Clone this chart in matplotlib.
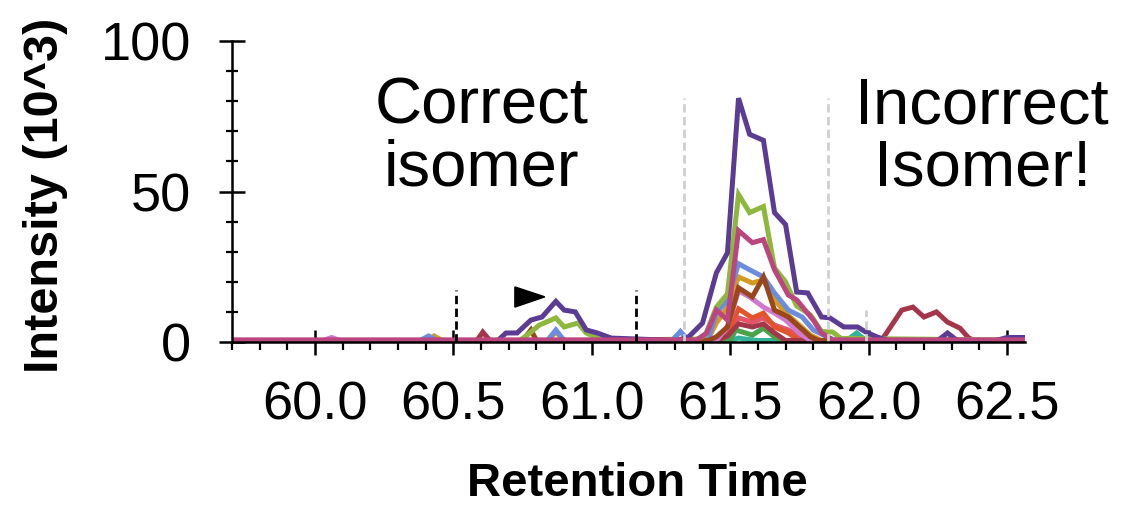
import numpy as np
import matplotlib.pyplot as plt
from matplotlib.ticker import MultipleLocator, FormatStrFormatter

# retention time (min) / intensity (10^3) vertices
t_purple = [59.6, 60.66, 60.69, 60.73, 60.78, 60.82, 60.87, 60.90, 60.94, 60.98, 61.02, 61.07,
            61.31, 61.35, 61.40, 61.45, 61.49, 61.53, 61.57, 61.62, 61.66, 61.70, 61.74, 61.78,
            61.83, 61.86, 61.91, 61.96, 61.99, 62.03, 62.07, 62.25, 62.285, 62.32, 62.46, 62.50, 62.7]
y_purple = [0.5, 0.5, 3, 3, 7.3, 8.3, 13.5, 10.6, 10, 4, 3, 1.3,
            0.5, 1.7, 6.3, 23, 29.6, 81, 69, 67, 43, 39, 16.6, 16.3,
            8.3, 8, 5, 5, 3.3, 1.7, 0.5, 0.5, 3, 0.5, 0.5, 1.5, 1.5]

t_green = [59.6, 60.74, 60.78, 60.81, 60.87, 60.90, 60.95, 60.98, 61.02, 61.05,
           61.37, 61.41, 61.45, 61.49, 61.53, 61.57, 61.62, 61.66, 61.70, 61.74, 61.79,
           61.83, 61.87, 61.90, 62.7]
y_green = [0.5, 0.5, 3.3, 5.6, 8, 5, 6.3, 3, 1.3, 0.5,
           0.5, 2.3, 11.6, 16, 49, 43, 45, 24.6, 20, 12, 9,
           3.5, 3.3, 1.2, 0.5]

t_pink = [59.6, 61.38, 61.415, 61.45, 61.49, 61.53, 61.58, 61.62, 61.66, 61.71, 61.74,
          61.80, 61.83, 61.87, 62.7]
y_pink = [0.7, 0.7, 3, 10.6, 7.3, 37, 33, 34, 24, 15.6, 14,
          7.3, 3, 0.7, 0.7]

t_blue = [59.6, 60.38, 60.41, 60.44, 60.84, 60.87, 60.90, 61.29, 61.32, 61.35,
          61.42, 61.45, 61.49, 61.53, 61.57, 61.62, 61.66, 61.71, 61.76, 61.80, 61.85, 61.88, 62.7]
y_blue = [0.5, 0.5, 2, 0.5, 0.5, 4, 0.5, 0.5, 3.5, 0.5,
          1, 9.6, 14, 26, 24, 21.6, 16.3, 10.6, 8.3, 4, 1.7, 0.5, 0.5]

t_gold = [59.6, 60.41, 60.43, 60.46, 60.84, 60.87, 60.90,
          61.42, 61.45, 61.49, 61.53, 61.58, 61.62, 61.66, 61.70, 61.75, 61.79, 61.83, 62.7]
y_gold = [0.5, 0.5, 2, 0.5, 0.5, 3.3, 0.5,
          1, 6.3, 11.6, 21.6, 19.6, 20.6, 14, 9.6, 5.6, 2.3, 0.5, 0.5]

t_brown = [59.6, 60.75, 60.78, 60.80, 61.42, 61.45, 61.49, 61.53, 61.58, 61.62, 61.66,
           61.71, 61.75, 61.79, 61.82, 62.7]
y_brown = [0.5, 0.5, 4, 0.5, 0.5, 1.7, 5, 18, 15, 21.6, 10.6,
           8.3, 5, 1.7, 0.5, 0.5]

t_orchid = [59.6, 60.03, 60.06, 60.09, 61.45, 61.49, 61.53, 61.57, 61.62, 61.66, 61.70, 61.75, 61.79, 62.7]
y_orchid = [0.5, 0.5, 1.5, 0.5, 0.5, 5, 17, 15, 11.6, 9.6, 7.3, 3, 0.5, 0.5]

t_orange = [59.6, 61.45, 61.49, 61.53, 61.58, 61.62, 61.66, 61.71, 61.75, 62.7]
y_orange = [0.5, 0.5, 3, 11, 8, 9.6, 5, 3, 0.5, 0.5]

t_salmon = [59.6, 61.45, 61.49, 61.53, 61.58, 61.62, 61.66, 61.71, 61.75, 61.79, 62.7]
y_salmon = [0.5, 0.5, 2, 8, 6.6, 8, 5.6, 4, 2.3, 0.5, 0.5]

t_darkred = [59.6, 60.585, 60.606, 60.632, 61.45, 61.49, 61.53, 61.58, 61.62, 61.66, 61.70,
             62.02, 62.05, 62.12, 62.16, 62.20, 62.245, 62.285, 62.33, 62.36, 62.38, 62.7]
y_darkred = [0.5, 0.5, 3.3, 0.5, 0.5, 2, 6, 5, 6, 3, 0.5,
             0.5, 1, 10.6, 11.6, 8.3, 10, 6.6, 4.6, 1.5, 0.5, 0.5]

t_dkgreen = [59.6, 61.50, 61.52, 61.58, 61.62, 61.66, 61.69, 62.7]
y_dkgreen = [0.5, 0.5, 4, 2.3, 4.6, 1.7, 0.5, 0.5]

t_teal = [59.6, 61.50, 61.53, 61.57, 61.60, 61.92, 61.957, 61.99, 62.7]
y_teal = [0.5, 0.5, 1.3, 0.8, 0.5, 0.5, 3, 0.5, 0.5]

series = [
    (t_teal, y_teal, '#33b39b'),
    (t_dkgreen, y_dkgreen, '#4aa24a'),
    (t_salmon, y_salmon, '#e3546a'),
    (t_orange, y_orange, '#e2552c'),
    (t_darkred, y_darkred, '#a4364a'),
    (t_orchid, y_orchid, '#cf7ad0'),
    (t_gold, y_gold, '#d49b22'),
    (t_blue, y_blue, '#6a8de0'),
    (t_brown, y_brown, '#9a461c'),
    (t_green, y_green, '#8db83d'),
    (t_purple, y_purple, '#5b3b93'),
    (t_pink, y_pink, '#bb457e'),
]

# window markers
black_marks = [60.51, 61.16]
black_top = 17.3
grey_marks = [61.334, 61.854, 61.99]
grey_tops = [81, 81, 10.6]
arrow_pts = [(60.722, 18.3), (60.722, 11.6), (60.83, 15.0)]

plt.rcParams['font.family'] = ['Liberation Sans', 'DejaVu Sans']

fig = plt.figure(figsize=(11.24, 5.07), dpi=100)
ax = fig.add_axes([232 / 1124, 1 - 342 / 507, 793 / 1124, 301 / 507])

for t, y, c in series:
    ax.plot(t, y, color=c, lw=3.6, solid_joinstyle='miter')

for x in black_marks:
    ax.plot([x, x], [0, black_top], color='black', lw=2, ls=(0, (3, 1.6)))
for x, top in zip(grey_marks, grey_tops):
    ax.plot([x, x], [0, top], color='#cfcfcf', lw=2, ls=(0, (3, 1.6)))

ax.add_patch(plt.Polygon(arrow_pts, closed=True, color='black'))

ax.text(60.6, 68, 'Correct\nisomer', fontsize=47, ha='center', va='center', linespacing=1.05)
ax.text(62.41, 68, 'Incorrect\nIsomer!', fontsize=47, ha='center', va='center', linespacing=1.05)

ax.set_xlim(59.70, 62.565)
ax.set_ylim(0, 100)
ax.spines['top'].set_visible(False)
ax.spines['right'].set_visible(False)
ax.spines['left'].set_linewidth(1.8)
ax.spines['bottom'].set_linewidth(1.8)

ax.xaxis.set_major_locator(MultipleLocator(0.5))
ax.xaxis.set_minor_locator(MultipleLocator(0.1))
ax.xaxis.set_major_formatter(FormatStrFormatter('%.1f'))
ax.yaxis.set_major_locator(MultipleLocator(50))
ax.yaxis.set_minor_locator(MultipleLocator(10))

ax.tick_params(axis='x', which='major', direction='inout', length=18, width=1.8, labelsize=39, pad=19)
ax.tick_params(axis='x', which='minor', direction='out', length=5.5, width=1.6)
ax.tick_params(axis='y', which='major', direction='inout', length=18.5, width=1.8, labelsize=39, pad=20)
ax.tick_params(axis='y', which='minor', direction='inout', length=8.6, width=1.6)

ax.set_xlabel('Retention Time', fontsize=34, fontweight='bold')
ax.set_ylabel('Intensity (10^3)', fontsize=35, fontweight='bold')
ax.xaxis.set_label_coords(0.511, -0.40)
ax.yaxis.set_label_coords(-0.207, 0.488)

fig.savefig('out.png', dpi=100)
